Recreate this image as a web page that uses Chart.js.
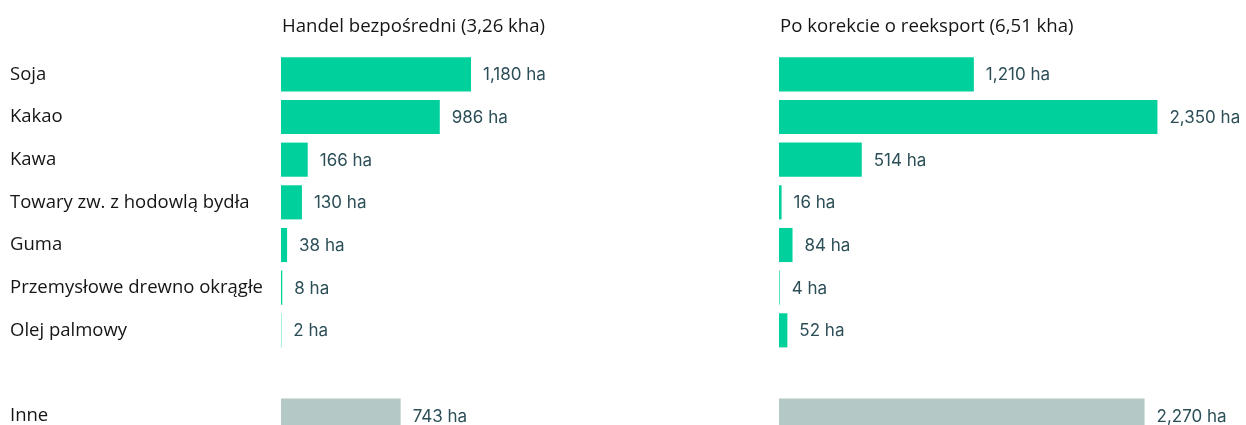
<!DOCTYPE html>
<html>
<head>
<meta charset="utf-8">
<script src="https://cdn.jsdelivr.net/npm/chart.js@4.4.0/dist/chart.umd.min.js"></script>
<style>
  html, body { margin: 0; padding: 0; background: #fff; overflow: hidden; }
  #left { position: absolute; left: 0; top: 0; }
  #right { position: absolute; left: 779px; top: 0; }
</style>
</head>
<body>
<canvas id="left" width="748" height="437"></canvas>
<canvas id="right" width="467" height="437"></canvas>
<script>
var categories = ['Soja', 'Kakao', 'Kawa', 'Towary zw. z hodowlą bydła', 'Guma', 'Przemysłowe drewno okrągłe', 'Olej palmowy', '', 'Inne'];
var direct = [1180, 986, 166, 130, 38, 8, 2, null, 743];
var reexport = [1210, 2350, 514, 16, 84, 4, 52, null, 2270];
var titles = ['Handel bezpośredni (3,26 kha)', 'Po korekcie o reeksport (6,51 kha)'];

var GREEN = '#00d19c';
var GREY = '#b4c9c5';
var barColors = categories.map(function(c) { return c === 'Inne' ? GREY : GREEN; });

// wartości przy słupkach + tytuł panelu
var labelsPlugin = {
  id: 'labels',
  afterDatasetsDraw: function(chart) {
    var ctx = chart.ctx;
    var meta = chart.getDatasetMeta(0);
    var data = chart.data.datasets[0].data;
    ctx.save();
    ctx.font = '17px Inter';
    ctx.fillStyle = '#2c4f57';
    ctx.textBaseline = 'middle';
    ctx.textAlign = 'left';
    meta.data.forEach(function(bar, i) {
      if (data[i] == null) return;
      ctx.fillText(data[i].toLocaleString('en-US') + ' ha', bar.x + 12, bar.y + 1);
    });
    ctx.font = '18.6px "Open Sans"';
    ctx.fillStyle = '#151515';
    ctx.fillText(chart.options.plugins.panelTitle, chart.chartArea.left + 1, 27);
    ctx.restore();
  }
};

function makeChart(id, values, title, showLabels) {
  return new Chart(document.getElementById(id), {
    type: 'bar',
    data: {
      labels: categories,
      datasets: [{
        data: values,
        backgroundColor: barColors,
        borderWidth: 0,
        barPercentage: 0.8,
        categoryPercentage: 1.0
      }]
    },
    options: {
      indexAxis: 'y',
      responsive: false,
      animation: false,
      layout: { padding: { left: showLabels ? 10 : 0, top: 53, right: 0, bottom: 0 } },
      plugins: {
        legend: { display: false },
        tooltip: { enabled: false },
        panelTitle: title
      },
      scales: {
        x: { display: false, min: 0, max: 2900 },
        y: {
          display: showLabels,
          grid: { display: false },
          border: { display: false },
          afterFit: function(scale) {
            if (showLabels) scale.width = 271;
            scale.paddingTop = 0;
            scale.paddingBottom = 0;
          },
          ticks: {
            crossAlign: 'far',
            color: '#151515',
            font: { family: 'Open Sans', size: 18.5 }
          }
        }
      }
    },
    plugins: [labelsPlugin]
  });
}

makeChart('left', direct, titles[0], true);
makeChart('right', reexport, titles[1], false);
</script>
</body>
</html>
